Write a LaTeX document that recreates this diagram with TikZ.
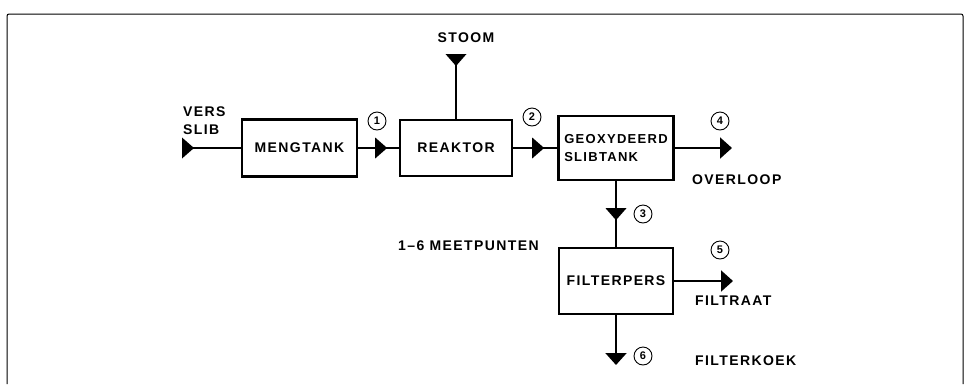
\documentclass[tikz,border=0pt]{standalone}
\usepackage{fontspec}
\setmainfont{Liberation Sans}[LetterSpace=10]
\usetikzlibrary{arrows.meta,decorations.markings}
\tikzset{
  box/.style={draw, line width=2.3pt, minimum width=#1, inner sep=0pt},
  flow/.style={line width=2pt},
  midtri/.style={decoration={markings, mark=at position #1 with {\fill (-12pt,-10.5pt) -- (0pt,0pt) -- (-12pt,10.5pt) -- cycle;}}, postaction={decorate}},
  endtri/.style={-{Triangle[length=12pt,width=21pt]}},
  lbl/.style={font=\fontsize{14}{16}\selectfont\bfseries, inner sep=0pt},
  num/.style={draw, circle, line width=0.9pt, minimum size=18pt, inner sep=0pt, font=\fontsize{11}{11}\selectfont\bfseries},
  frame/.style={line width=1pt}
}
\begin{document}
\begin{tikzpicture}[x=1pt,y=-1pt]
\useasboundingbox (0,0) rectangle (970,384);
% frame
\draw[frame, rounded corners=2pt] (7,384) -- (7,14) -- (963,14) -- (963,384);

% boxes
\node[box=115pt, minimum height=57pt, lbl] (meng) at (299.5,148) {MENGTANK};
\node[box=112pt, minimum height=56pt, lbl] (reak) at (456,148) {REAKTOR};
\node[box=115pt, minimum height=64pt, lbl, font=\fontsize{13}{16}\selectfont\bfseries, align=left] (geox) at (616,148) {GEOXYDEERD\\[2pt]SLIBTANK};
\node[box=114pt, minimum height=66pt, lbl] (filt) at (616,281) {FILTERPERS};

% labels
\node[lbl, anchor=west, align=left] (vers) at (183,121) {VERS\\[2pt]SLIB};
\node[lbl] (stoom) at (466,38) {STOOM};
\node[lbl, anchor=west] (overl) at (692,180) {OVERLOOP};
\node[lbl, anchor=west] (meet) at (398,246) {1–6 MEETPUNTEN};
\node[lbl, anchor=west] (filtr) at (695,301) {FILTRAAT};
\node[lbl, anchor=west] (koek) at (695,361) {FILTERKOEK};

% measurement point circles
\node[num] (n1) at (377,121) {1};
\node[num] (n2) at (532,117) {2};
\node[num] (n4) at (720,121) {4};
\node[num] (n3) at (643,214) {3};
\node[num] (n5) at (720,250) {5};
\node[num] (n6) at (643,356) {6};

% free ends
\coordinate (vin) at (182,148);
\coordinate (stin) at (456,54);
\coordinate (o4) at (732,148);
\coordinate (o5) at (733,281);
\coordinate (o6) at (616,365);

% connectors
\draw[flow, midtri=12pt] (vin) -- (meng.west);
\draw[flow, midtri=12pt] (stin) -- (reak.north);
\draw[flow, midtri=29pt] (meng.east) -- (reak.west);
\draw[flow, midtri=31pt] (reak.east) -- (geox.west);
\draw[flow, endtri] (geox.east) -- (o4);
\draw[flow, midtri=39pt] (geox.south) -- (filt.north);
\draw[flow, endtri] (filt.east) -- (o5);
\draw[flow, endtri] (filt.south) -- (o6);
\end{tikzpicture}
\end{document}
